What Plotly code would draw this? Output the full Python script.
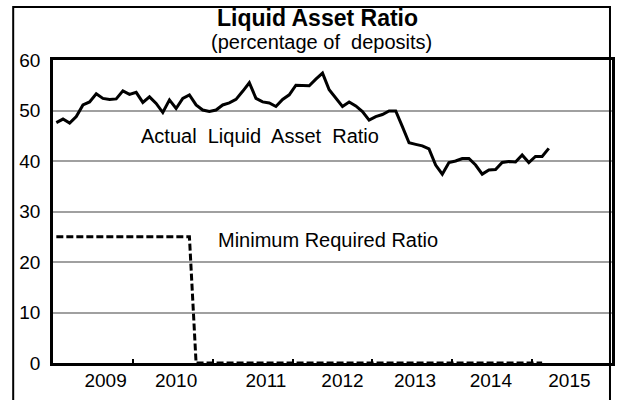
import plotly.graph_objects as go

# Monthly observations (month index from left edge of the chart)
actual_ratio = [47.6, 48.3, 47.5, 48.8, 51.1, 51.7, 53.3, 52.4, 52.2, 52.3,
                53.9, 53.2, 53.6, 51.6, 52.7, 51.4, 49.6, 52.1, 50.4, 52.4,
                53.1, 51.1, 50.1, 49.8, 50.1, 51.1, 51.5, 52.2, 53.8, 55.5,
                52.4, 51.7, 51.5, 50.8, 52.2, 53.1, 55.0, 55.0, 54.9, 56.2,
                57.4, 54.1, 52.4, 50.8, 51.7, 50.9, 49.8, 48.1, 48.8, 49.2,
                49.9, 49.9, 46.8, 43.6, 43.3, 43.0, 42.4, 39.2, 37.4, 39.7,
                40.0, 40.5, 40.5, 39.2, 37.4, 38.2, 38.3, 39.7, 39.9, 39.8,
                41.2, 39.7, 40.9, 40.9, 42.5]
min_required = [25] * 21 + [0] * 53

year_labels = ["2009", "2010", "2011", "2012", "2013", "2014", "2015"]
year_label_pos = [7.9, 18.5, 32.0, 43.5, 54.4, 65.8, 77.6]
year_bounds = [12, 24, 36, 48, 60, 72]

x_actual = [i + 0.5 for i in range(len(actual_ratio))]
x_min = [i + 0.5 for i in range(len(min_required))]

FONT = "Liberation Sans, Arial, sans-serif"

fig = go.Figure()
fig.add_trace(go.Scatter(x=x_min, y=min_required, mode="lines",
                         line=dict(color="black", width=3, dash="7px,3px"),
                         hoverinfo="skip", showlegend=False))
fig.add_trace(go.Scatter(x=x_actual, y=actual_ratio, mode="lines",
                         line=dict(color="black", width=3),
                         showlegend=False))

fig.update_layout(
    width=618, height=400,
    margin=dict(l=53, r=3, t=60, b=37),
    paper_bgcolor="white", plot_bgcolor="white",
    font=dict(family=FONT, color="black"),
    xaxis=dict(range=[0, 84], showgrid=False, zeroline=False,
               showline=True, linecolor="black", linewidth=3, mirror=True,
               tickmode="array", tickvals=year_label_pos, ticktext=year_labels,
               ticks="", tickfont=dict(size=19), ticklabelstandoff=-2,
               minor=dict(tickmode="array", tickvals=year_bounds, ticks="inside",
                          ticklen=4, tickwidth=2, tickcolor="black", showgrid=False)),
    yaxis=dict(range=[0, 60], tickvals=[0, 10, 20, 30, 40, 50, 60],
               showgrid=True, gridcolor="#a0a0a0", gridwidth=1.5,
               zeroline=False, showline=True, linecolor="black", linewidth=2.5,
               mirror=True, ticks="", tickfont=dict(size=19), ticklabelstandoff=6),
    shapes=[dict(type="rect", xref="paper", yref="paper",
                 x0=-0.0712, x1=0.9964, y0=-0.14, y1=1.175,
                 line=dict(color="black", width=2), fillcolor="rgba(0,0,0,0)",
                 layer="above")],
    annotations=[
        dict(text="<b>Liquid Asset Ratio</b>", xref="paper", yref="paper",
             x=(319 - 53) / 562, y=(363 - 18) / 303, showarrow=False,
             xanchor="center", yanchor="middle", font=dict(size=23)),
        dict(text="(percentage of\u00a0 deposits)", xref="paper", yref="paper",
             x=(323 - 53) / 562, y=(363 - 42) / 303, showarrow=False,
             xanchor="center", yanchor="middle", font=dict(size=20)),
        dict(text="Actual\u00a0 Liquid\u00a0 Asset\u00a0 Ratio", x=31.1, y=44.9,
             showarrow=False, xanchor="center", yanchor="middle", font=dict(size=20)),
        dict(text="Minimum Required Ratio", x=41.3, y=24.4,
             showarrow=False, xanchor="center", yanchor="middle", font=dict(size=20)),
    ],
)

fig.write_html("out.html", config={"displayModeBar": False},
               post_script="document.body.style.margin='0';document.body.style.padding='0';")
